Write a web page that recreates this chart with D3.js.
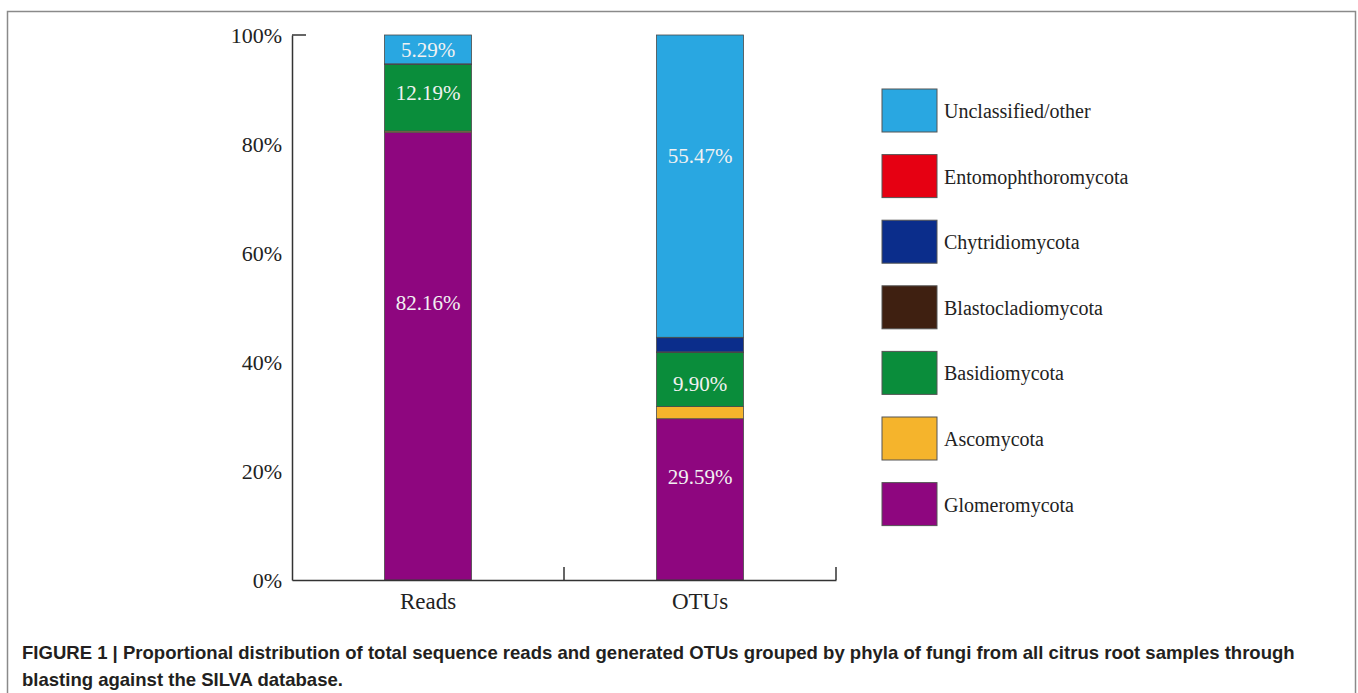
<!DOCTYPE html>
<html>
<head>
<meta charset="utf-8">
<script src="https://cdn.jsdelivr.net/npm/d3@7"></script>
<style>
  body { margin: 0; background: #fff; }
  svg { display: block; }
  .tick text { font-family: "Liberation Serif", "DejaVu Serif", serif; }
</style>
</head>
<body>
<div id="chart"></div>
<script>
// chart values
var categories = ["Reads", "OTUs"];
var phyla = ["Glomeromycota", "Ascomycota", "Basidiomycota", "Blastocladiomycota",
             "Chytridiomycota", "Entomophthoromycota", "Unclassified/other"];
var readsValues = [82.16, 0.22, 12.19, 0.10, 0.03, 0.01, 5.29];
var otuValues = [29.59, 2.25, 9.90, 0.12, 2.60, 0.07, 55.47];
var yTicks = [0, 20, 40, 60, 80, 100];

// which segments carry a label, and where (in % units) the label sits
var readsLabels = [["82.16%", 50.8], ["12.19%", 89.4], ["5.29%", 97.4]];
var otuLabels = [["29.59%", 18.9], ["9.90%", 36.1], ["55.47%", 77.8]];

var colors = ["#8e067f", "#f5b42c", "#0a8d3b", "#3f2011", "#0b2d8b", "#e60012", "#29a7e1"];

// svg area
var svgWidth = 1358;
var svgHeight = 693;

var chartMargin = { top: 35, left: 292 };
var chartWidth = 544;
var chartHeight = 545;

var svg = d3.select("#chart")
    .append("svg")
    .attr("width", svgWidth)
    .attr("height", svgHeight);

// figure frame
svg.append("path")
    .attr("d", "M7.5,720 V11.5 H1355.5 V720")
    .attr("fill", "none")
    .attr("stroke", "#8a8a8a")
    .attr("stroke-width", 1.5);

var chartGroup = svg.append("g")
    .attr("transform", `translate(${chartMargin.left}, ${chartMargin.top})`);

// build table for stacking
var table = categories.map(function(c, i) {
    var vals = i === 0 ? readsValues : otuValues;
    var row = { category: c };
    phyla.forEach(function(p, j) { row[p] = vals[j]; });
    return row;
});

var stacked = d3.stack().keys(phyla)(table);

var xScale = d3.scaleBand()
    .domain(categories)
    .range([0, chartWidth])
    .paddingInner(0)
    .paddingOuter(0);

var barWidth = 87;

var yScale = d3.scaleLinear()
    .domain([0, 100])
    .range([chartHeight, 0]);

// bars
chartGroup.selectAll("g.layer")
    .data(stacked)
    .enter()
    .append("g")
    .attr("class", "layer")
    .attr("fill", (d, i) => colors[i])
    .selectAll("rect")
    .data(d => d)
    .enter()
    .append("rect")
    .attr("x", d => xScale(d.data.category) + (xScale.bandwidth() - barWidth) / 2)
    .attr("y", d => yScale(d[1]))
    .attr("width", barWidth)
    .attr("height", d => yScale(d[0]) - yScale(d[1]))
    .attr("stroke", "#4a4a4a")
    .attr("stroke-width", 0.8);

// bar labels
[readsLabels, otuLabels].forEach(function(labels, i) {
    chartGroup.selectAll("text.lab" + i)
        .data(labels)
        .enter()
        .append("text")
        .attr("class", "lab" + i)
        .attr("x", xScale(categories[i]) + xScale.bandwidth() / 2)
        .attr("y", d => yScale(d[1]))
        .attr("dy", "0.35em")
        .attr("text-anchor", "middle")
        .attr("font-family", "Liberation Serif, DejaVu Serif, serif")
        .attr("font-size", "21px")
        .attr("fill", "#f2f2f2")
        .text(d => d[0]);
});

// y axis (no tick marks, only a cap at the top)
var yAxis = d3.axisLeft(yScale)
    .tickValues(yTicks)
    .tickFormat(d => d + "%")
    .tickSizeInner(0)
    .tickSizeOuter(0)
    .tickPadding(10);

var yG = chartGroup.append("g").call(yAxis);
yG.selectAll("text").style("font-size", "22px").attr("fill", "#222");
yG.select("path").attr("stroke", "#333").attr("stroke-width", 1.5);

yG.append("line")
    .attr("x1", 0)
    .attr("x2", 14)
    .attr("y1", yScale(100))
    .attr("y2", yScale(100))
    .attr("stroke", "#333")
    .attr("stroke-width", 1.5);

// x axis
var xAxis = d3.axisBottom(xScale)
    .tickSize(0)
    .tickPadding(13);

var xG = chartGroup.append("g")
    .attr("transform", `translate(0, ${chartHeight})`)
    .call(xAxis);
xG.selectAll("text").style("font-size", "23px").attr("fill", "#222");
xG.select("path").attr("stroke", "#333").attr("stroke-width", 1.5);

// x separators between categories
xG.selectAll("line.sep")
    .data(categories)
    .enter()
    .append("line")
    .attr("class", "sep")
    .attr("x1", d => xScale(d) + xScale.bandwidth())
    .attr("x2", d => xScale(d) + xScale.bandwidth())
    .attr("y1", 0)
    .attr("y2", -13)
    .attr("stroke", "#333")
    .attr("stroke-width", 1.5);

// legend, top item is the top of the stack
var legendOrder = phyla.slice().reverse();
var legend = svg.append("g")
    .attr("transform", "translate(882, 89)");

var item = legend.selectAll("g.item")
    .data(legendOrder)
    .enter()
    .append("g")
    .attr("class", "item")
    .attr("transform", (d, i) => `translate(0, ${i * 65.6})`);

item.append("rect")
    .attr("width", 55)
    .attr("height", 43)
    .attr("fill", d => colors[phyla.indexOf(d)])
    .attr("stroke", "#555")
    .attr("stroke-width", 1);

item.append("text")
    .attr("x", 62)
    .attr("y", 22)
    .attr("dy", "0.35em")
    .attr("font-family", "Liberation Serif, DejaVu Serif, serif")
    .attr("font-size", "20px")
    .attr("fill", "#222")
    .text(d => d);

// caption
var caption = [
  "FIGURE 1 | Proportional distribution of total sequence reads and generated OTUs grouped by phyla of fungi from all citrus root samples through",
  "blasting against the SILVA database."
];
svg.selectAll("text.caption")
    .data(caption)
    .enter()
    .append("text")
    .attr("class", "caption")
    .attr("x", 22)
    .attr("y", (d, i) => 659 + i * 27)
    .attr("font-family", "Liberation Sans, Arial, sans-serif")
    .attr("font-weight", "bold")
    .attr("font-size", "18.55px")
    .attr("fill", "#231f20")
    .text(d => d);
</script>
</body>
</html>
